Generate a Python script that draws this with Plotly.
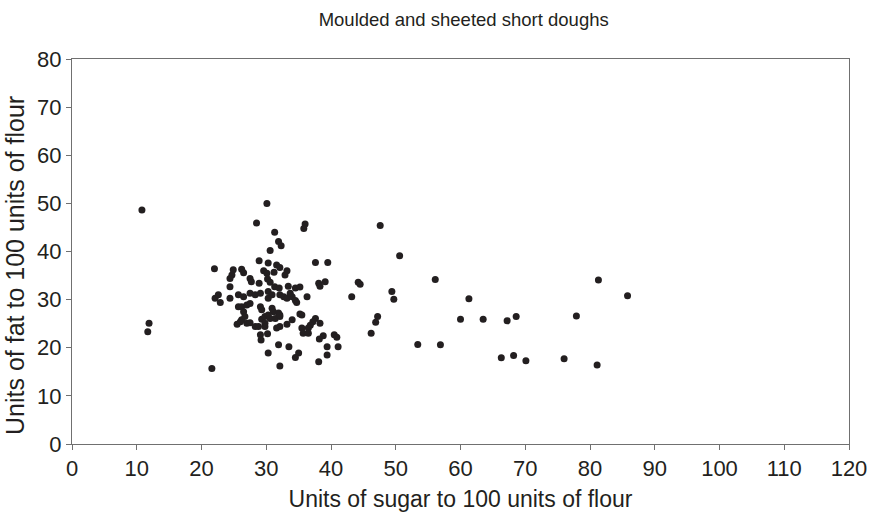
import plotly.graph_objects as go

sugar = [
    10.8, 11.9, 11.7,
    30.1, 28.5, 36.0, 35.8, 31.3, 31.9, 32.3, 30.6, 28.9, 30.3, 31.6, 32.1, 37.6, 39.5,
    22.0, 24.9, 26.2, 24.7, 24.4, 26.5, 29.6, 30.1, 31.2, 33.2, 32.9, 27.5, 27.7, 28.9,
    30.2, 30.6, 24.4, 31.3, 32.0, 33.4, 34.5, 35.2, 38.1, 39.1, 38.3, 44.2, 44.5, 43.2,
    36.3, 22.1, 22.6, 22.9, 24.4, 25.7, 26.5, 27.5, 28.3, 29.1, 30.3, 30.9, 30.3, 32.1,
    32.7, 33.2, 34.0, 33.7, 34.5, 34.7, 25.7, 26.2, 27.0, 27.5, 29.1, 29.3, 30.9, 31.1,
    31.9, 32.1, 26.5, 26.7, 26.2, 25.5, 26.0, 27.0, 27.5, 28.3, 28.8, 29.3, 29.8, 30.3,
    30.6, 29.8, 31.4, 32.1, 33.2, 34.0, 35.2, 35.5, 37.6, 37.2, 36.8, 36.5, 38.3, 32.1,
    31.6, 29.8, 30.2, 29.1, 29.2, 35.5, 35.7, 36.5, 38.8, 38.2, 40.5, 40.9, 39.4, 41.1,
    31.9, 30.3, 33.5, 35.0, 34.5, 39.4, 38.1, 32.1, 21.6,
    47.6, 50.6, 49.4, 49.7, 56.1, 61.3, 47.2, 46.9, 46.2, 53.4, 56.9, 60.0, 63.5, 67.2,
    68.6, 66.3, 68.2, 70.1, 76.0, 77.9, 81.3, 81.1, 85.8,
]
fat = [
    48.6, 25.1, 23.3,
    50.0, 45.9, 45.7, 44.8, 44.0, 42.1, 41.2, 40.2, 38.1, 37.6, 37.2, 36.7, 37.7, 37.7,
    36.4, 36.2, 36.3, 35.1, 34.4, 35.6, 36.0, 35.5, 35.7, 36.0, 35.1, 34.4, 33.7, 33.4,
    34.3, 33.6, 32.7, 32.7, 32.4, 32.8, 32.4, 32.6, 33.4, 33.7, 32.8, 33.6, 33.2, 30.6,
    30.6, 30.3, 31.0, 29.4, 30.3, 31.0, 30.6, 31.3, 31.0, 31.3, 31.7, 31.0, 30.3, 31.0,
    30.6, 30.3, 30.6, 31.3, 29.8, 29.4, 28.5, 28.5, 28.9, 29.2, 28.5, 27.9, 28.2, 27.5,
    27.2, 26.5, 27.5, 26.5, 25.8, 24.9, 25.4, 25.1, 25.2, 24.4, 24.4, 25.9, 26.5, 26.8,
    26.1, 25.1, 26.1, 26.8, 24.9, 25.8, 27.0, 26.8, 26.1, 25.4, 24.7, 24.1, 25.1, 24.4,
    24.1, 24.4, 22.9, 22.7, 21.6, 24.1, 23.0, 23.0, 22.5, 21.8, 22.7, 22.2, 20.2, 20.2,
    20.6, 18.9, 20.2, 18.9, 18.0, 18.5, 17.1, 16.2, 15.7,
    45.4, 39.1, 31.7, 30.1, 34.2, 30.2, 26.5, 25.3, 23.0, 20.7, 20.6, 25.9, 25.9, 25.6,
    26.5, 17.9, 18.4, 17.3, 17.7, 26.6, 34.1, 16.4, 30.8,
]

title_text = "Moulded and sheeted short doughs"
x_title = "Units of sugar to 100 units of flour"
y_title = "Units of fat to 100 units of flour"
x_ticks = list(range(0, 121, 10))
y_ticks = list(range(0, 81, 10))

fig = go.Figure()
fig.add_trace(go.Scatter(
    x=sugar, y=fat, mode="markers",
    marker=dict(color="#231f20", size=7, line=dict(width=0)),
    showlegend=False,
))

font_family = "Liberation Sans, Arial, sans-serif"
txt = "#231f20"
axis_common = dict(
    showgrid=False, zeroline=False, automargin=False,
    showline=True, linecolor="#707070", linewidth=1, mirror=True,
    ticks="outside", ticklen=5, tickcolor="#707070", tickwidth=1,
    tickfont=dict(family=font_family, size=22, color=txt),
)
fig.update_layout(
    width=870, height=514,
    margin=dict(l=72, r=21, t=59, b=70),
    paper_bgcolor="white", plot_bgcolor="white",
    title=dict(text=title_text, x=0.533, xanchor="center", y=0.962, yanchor="middle",
               font=dict(family=font_family, size=18.5, color=txt)),
    font=dict(family=font_family, color=txt),
)
fig.update_xaxes(range=[0, 120], tickvals=x_ticks,
                 title=dict(text=x_title, font=dict(family=font_family, size=23, color=txt), standoff=10),
                 **axis_common)
fig.update_yaxes(range=[0, 80], tickvals=y_ticks, **axis_common)
fig.add_annotation(
    text=y_title, textangle=-90, showarrow=False,
    xref="paper", yref="paper", x=-0.0734, y=0.465,
    xanchor="center", yanchor="middle",
    font=dict(family=font_family, size=25, color=txt),
)

fig.write_html("out.html")
